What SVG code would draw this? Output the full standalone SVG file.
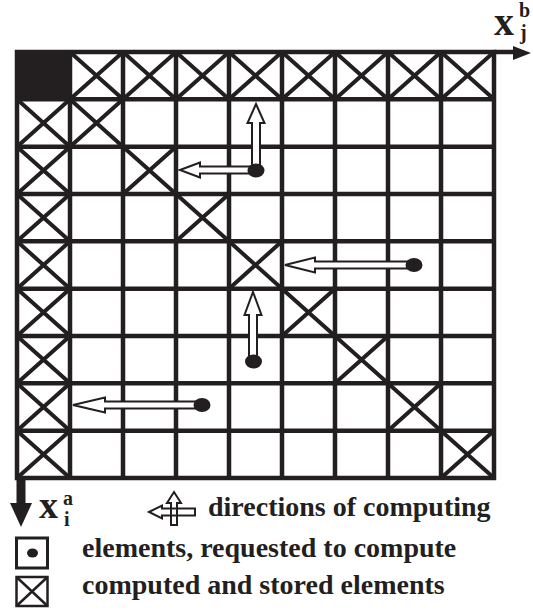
<svg xmlns="http://www.w3.org/2000/svg" width="533" height="610" viewBox="0 0 533 610">
<style>
.grid{fill:none;stroke:#231f20;stroke-width:4.5;stroke-linecap:square}
.xc{fill:none;stroke:#231f20;stroke-width:4}
.arr{fill:#fff;stroke:#231f20;stroke-width:2;stroke-linejoin:miter}
.dot{fill:#231f20}
.t{font-family:"Liberation Serif","Times New Roman",serif;font-weight:bold;fill:#231f20}
</style>
<rect width="533" height="610" fill="#fff"/>
<g id="filled-cell"><rect x="17" y="52" width="53" height="47.33" fill="#231f20"/></g>
<g id="grid">
<path class="grid" d="M17 52H494M17 99.33H494M17 146.67H494M17 194H494M17 241.33H494M17 288.67H494M17 336H494M17 383.33H494M17 430.67H494M17 478H494
M17 52V478M70 52V478M123 52V478M176 52V478M229 52V478M282 52V478M335 52V478M388 52V478M441 52V478M494 52V478"/>
</g>
<g id="stored-row0">
<path class="xc" d="M70 52L123 99.33M123 52L70 99.33M123 52L176 99.33M176 52L123 99.33M176 52L229 99.33M229 52L176 99.33M229 52L282 99.33M282 52L229 99.33M282 52L335 99.33M335 52L282 99.33M335 52L388 99.33M388 52L335 99.33M388 52L441 99.33M441 52L388 99.33M441 52L494 99.33M494 52L441 99.33"/>
</g>
<g id="stored-col0">
<path class="xc" d="M17 99.33L70 146.67M70 99.33L17 146.67M17 146.67L70 194M70 146.67L17 194M17 194L70 241.33M70 194L17 241.33M17 241.33L70 288.67M70 241.33L17 288.67M17 288.67L70 336M70 288.67L17 336M17 336L70 383.33M70 336L17 383.33M17 383.33L70 430.67M70 383.33L17 430.67M17 430.67L70 478M70 430.67L17 478"/>
</g>
<g id="stored-diagonal">
<path class="xc" d="M70 99.33L123 146.67M123 99.33L70 146.67M123 146.67L176 194M176 146.67L123 194M176 194L229 241.33M229 194L176 241.33M229 241.33L282 288.67M282 241.33L229 288.67M282 288.67L335 336M335 288.67L282 336M335 336L388 383.33M388 336L335 383.33M388 383.33L441 430.67M441 383.33L388 430.67M441 430.67L494 478M494 430.67L441 478"/>
</g>
<g id="axes">
<path d="M494 52H516" stroke="#231f20" stroke-width="4.5" fill="none"/>
<polygon points="513,46 531,53 513,60" fill="#231f20"/>
<rect x="16.5" y="476" width="9" height="28" fill="#231f20"/>
<polygon points="10,503 32,503 21,527" fill="#231f20"/>
<text class="t" x="494" y="35" font-size="40">x</text>
<text class="t" x="519" y="17" font-size="20">b</text>
<text class="t" x="520" y="39" font-size="20">j</text>
<text class="t" x="39" y="518" font-size="38">x</text>
<text class="t" x="63" y="505" font-size="20">a</text>
<text class="t" x="64" y="526" font-size="20">i</text>
</g>
<g id="connectors">
<polygon class="arr" points="256,104 264.5,123 260,123 260,170 252,170 252,123 247.5,123"/>
<polygon class="arr" points="180,170 200,162.5 200,166.5 256,166.5 256,173.5 200,173.5 200,177.5"/>
<polygon class="arr" points="285,265 315,257.5 315,261.5 414,261.5 414,268.5 315,268.5 315,272.5"/>
<polygon class="arr" points="253,292 261.5,315 257,315 257,361 249,361 249,315 244.5,315"/>
<polygon class="arr" points="73,405 105,397.5 105,401.5 202,401.5 202,408.5 105,408.5 105,412.5"/>
</g>
<g id="req-1"><ellipse class="dot" cx="256" cy="170.5" rx="8.5" ry="7"/></g>
<g id="req-2"><ellipse class="dot" cx="414" cy="265" rx="8.5" ry="7"/></g>
<g id="req-3"><ellipse class="dot" cx="253.5" cy="361.5" rx="8.5" ry="7"/></g>
<g id="req-4"><ellipse class="dot" cx="202" cy="405" rx="8.5" ry="7"/></g>
<g id="legend">
<g id="legend-directions">
<polygon points="149,512 162,505.5 162,508.5 195,508.5 195,515.5 162,515.5 162,518.5" fill="none" stroke="#231f20" stroke-width="2"/>
<polygon points="174,492 181,503 177,503 177,525 171,525 171,503 167,503" fill="none" stroke="#231f20" stroke-width="2"/>
<text class="t" x="208" y="516" font-size="28">directions of computing</text>
</g>
<g id="legend-requested">
<rect x="16.5" y="538" width="31" height="30" fill="none" stroke="#231f20" stroke-width="3"/>
<ellipse class="dot" cx="32.5" cy="553" rx="5.5" ry="4.5"/>
<text class="t" x="82" y="557" font-size="28">elements, requested to compute</text>
</g>
<g id="legend-stored">
<rect x="16.5" y="577" width="31" height="29" fill="none" stroke="#231f20" stroke-width="2.5"/>
<path d="M16.5 577L47.5 606M47.5 577L16.5 606" fill="none" stroke="#231f20" stroke-width="2.5"/>
<text class="t" x="82" y="594" font-size="28">computed and stored elements</text>
</g>
</g>
</svg>
